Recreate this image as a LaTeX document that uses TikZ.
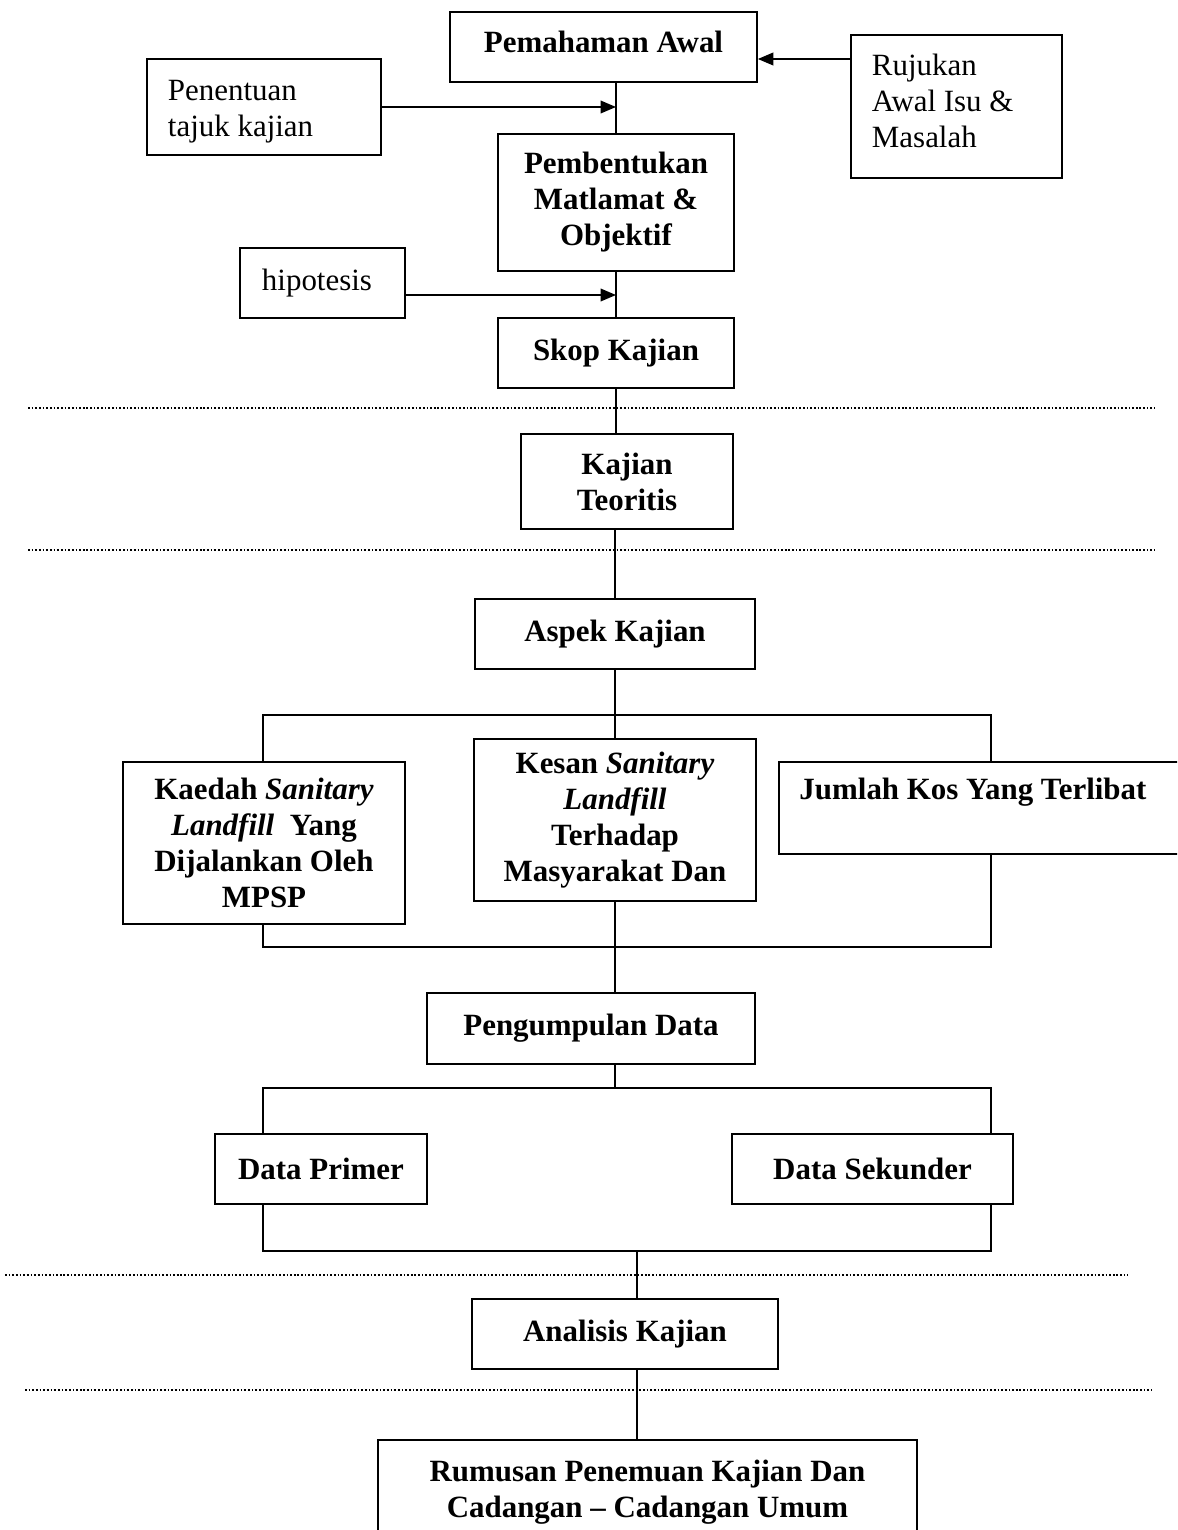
\documentclass[tikz,border=0pt]{standalone}
\usepackage{fontspec}
\setmainfont{Liberation Serif}
\usetikzlibrary{arrows.meta}

\begin{document}
\begin{tikzpicture}[x=0.025cm,y=-0.025cm,
	box/.style={draw,line width=1.2pt,inner sep=0pt,font=\fontsize{22}{25.6}\selectfont\bfseries,align=center},
	plain/.style={box,font=\fontsize{22}{25.6}\selectfont,align=flush left},
	sz/.style 2 args={minimum width=#1*0.025cm,minimum height=#2*0.025cm},
	conn/.style={line width=1.2pt},
	arr/.style={conn,-{Triangle[length=11pt,width=9pt]}},
	sep/.style={line width=1pt,dash pattern=on 1.2pt off 1.4pt}]
	\newcommand\busL{263}
	\newcommand\busR{991}

	\clip (0,0) rectangle (1177,1530);
	\fill[white] (0,0) rectangle (1177,1530);

	\node[box,sz={307}{70},text depth=8pt] (awal) at (603.5,47) {Pemahaman Awal};
	\node[plain,sz={234}{96},text width=4.8cm,text height=21pt] (tajuk) at (264,107) {Penentuan\\tajuk kajian};
	\node[plain,sz={211}{143},text width=4.225cm,text height=8pt] (rujukan) at (956.5,106.5) {Rujukan\\Awal Isu \&\\Masalah};
	\node[box,sz={236}{137}] (bentuk) at (616,202.5) {Pembentukan\\Matlamat \&\\Objektif};
	\node[plain,sz={165}{70},text width=3.025cm] (hipo) at (322.5,283) {hipotesis};
	\node[box,sz={236}{70}] (skop) at (616,353) {Skop Kajian};

	\node[box,sz={212}{95}] (teori) at (627,481.5) {Kajian\\Teoritis};
	\node[box,sz={280}{70}] (aspek) at (615,634) {Aspek Kajian};

	\node[box,sz={282}{162}] (kaedah) at (264,843) {Kaedah \textit{Sanitary}\\\textit{Landfill}~ Yang\\Dijalankan Oleh\\MPSP};
	\node[box,sz={282}{162}] (kesan) at (615,820) {Kesan \textit{Sanitary}\\\textit{Landfill}\\Terhadap\\Masyarakat Dan};
	\node[box,sz={411}{92},align=flush left,text width=9.25cm,text depth=27pt] (jumlah) at (984.5,808) {Jumlah Kos Yang Terlibat};

	\node[box,sz={328}{71}] (kumpul) at (591,1028.5) {Pengumpulan Data};
	\node[box,sz={212}{70}] (primer) at (321,1169) {Data Primer};
	\node[box,sz={281}{70}] (sekunder) at (872.5,1169) {Data Sekunder};
	\node[box,sz={306}{70}] (analisis) at (625,1334) {Analisis Kajian};
	\node[box,sz={539}{105}] (rumusan) at (647.5,1492.5) {Rumusan Penemuan Kajian Dan\\Cadangan -- Cadangan Umum};

	\coordinate (r1) at (0,59);
	\coordinate (h1) at (0,295);
	\draw[arr] (rujukan.west |- r1) -- (awal.east |- r1);
	\draw[conn] (awal.south -| bentuk.north) -- (bentuk.north);
	\draw[arr] (tajuk.east) -- (tajuk.east -| bentuk.north);
	\draw[conn] (bentuk) -- (skop);
	\draw[arr] (hipo.east |- h1) -- (skop.north |- h1);
	\draw[conn] (skop.south) -- (skop.south |- teori.north);
	\draw[conn] (teori.south -| aspek.north) -- (aspek.north);

	\coordinate (a1) at (\busL,715);
	\coordinate (a2) at (\busR,715);
	\coordinate (a3) at (\busL,947);
	\coordinate (a4) at (\busR,947);
	\draw[conn] (aspek.south) -- (aspek.south |- a1);
	\draw[conn] (kaedah.north -| a1) -- (a1) -- (a2) -- (a2 |- jumlah.north);
	\draw[conn] (kesan.north) -- (kesan.north |- a1);
	\draw[conn] (kaedah.south -| a3) -- (a3) -- (a4) -- (a4 |- jumlah.south);
	\draw[conn] (kesan.south) -- (kesan.south |- kumpul.north);

	\coordinate (c1) at (\busL,1088);
	\coordinate (c2) at (\busR,1088);
	\coordinate (c3) at (\busL,1251);
	\coordinate (c4) at (\busR,1251);
	\draw[conn] (kumpul.south -| kesan.south) -- (kesan.south |- c1);
	\draw[conn] (primer.north -| c1) -- (c1) -- (c2) -- (c2 |- sekunder.north);
	\draw[conn] (primer.south -| c3) -- (c3) -- (c4) -- (c4 |- sekunder.south);

	\coordinate (d1) at (637,1251);
	\draw[conn] (d1) -- (d1 |- analisis.north);
	\draw[conn] (d1 |- analisis.south) -- (d1 |- rumusan.north);

	\draw[sep] (28,408) -- (1155,408);
	\draw[sep] (28,550) -- (1155,550);
	\draw[sep] (5,1275) -- (1128,1275);
	\draw[sep] (25,1390) -- (1152,1390);
\end{tikzpicture}
\end{document}
